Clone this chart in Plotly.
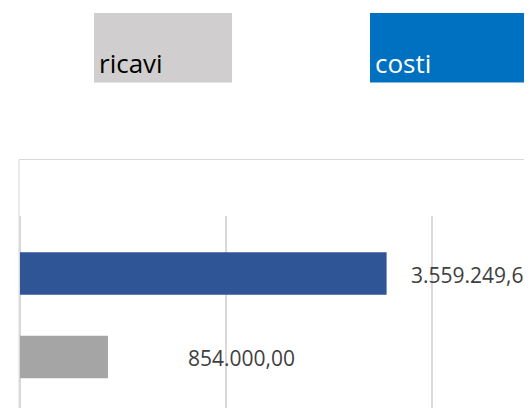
import plotly.graph_objects as go

categories = ["ricavi", "costi"]
values = [854000.00, 3559249.61]
bar_colors = ["#A5A5A5", "#2F5597"]
legend_labels = ["ricavi", "costi"]
legend_colors = ["#D0CECE", "#0070C0"]
legend_text_colors = ["#000000", "#FFFFFF"]

# the page body adds an 8px margin; work in reference pixels and offset
OFF = 8
REF_H = 408
W, H = 532 - OFF, REF_H - OFF
ML, MT = 20 - OFF, 216 - OFF
PW, PH = W - ML, H - MT


def px_x(p):
    return (p - OFF - ML) / PW


def px_y(p):
    return (H - (p - OFF)) / PH


def fmt_it(v):
    s = f"{v:,.2f}"
    return s.replace(",", "X").replace(".", ",").replace("X", ".")


fig = go.Figure()
fig.add_trace(go.Bar(
    y=categories, x=values, orientation="h",
    marker=dict(color=bar_colors, line=dict(width=0)),
    hoverinfo="skip", showlegend=False,
))

# data labels
label_shift = [78, 22]
for c, v, sh in zip(categories, values, label_shift):
    fig.add_annotation(
        x=v, y=c, xref="x", yref="y", text=fmt_it(v), showarrow=False,
        xanchor="left", yanchor="middle", xshift=sh, yshift=-1,
        font=dict(family="Open Sans", size=21, color="#404040"),
    )

# chart border
fig.add_shape(type="rect", xref="paper", yref="paper",
              x0=px_x(19), x1=px_x(560), y0=px_y(440), y1=px_y(159.5),
              line=dict(color="#D9D9D9", width=1), fillcolor="rgba(0,0,0,0)", layer="below")

# legend-like boxes
box_x = [(94, 232), (370, 560)]
for (x0, x1), lab, col, tcol in zip(box_x, legend_labels, legend_colors, legend_text_colors):
    fig.add_shape(type="rect", xref="paper", yref="paper",
                  x0=px_x(x0), x1=px_x(x1), y0=px_y(82.5), y1=px_y(13),
                  line=dict(width=0), fillcolor=col, layer="below")
    fig.add_annotation(
        x=px_x(x0 + 3), y=px_y(83), xref="paper", yref="paper", text=lab, showarrow=False,
        xanchor="left", yanchor="bottom",
        font=dict(family="Open Sans", size=26, color=tcol),
    )

# y range: category pitch 83.5px, costi centre at 273.5px, ricavi at 357px (reference pixels)
pitch = 83.5
y_top = 1 + (273.5 - 216) / pitch
y_bot = 0 - (REF_H - 357) / pitch

fig.update_layout(
    width=W, height=H,
    margin=dict(l=ML, r=0, t=MT, b=0, pad=0),
    paper_bgcolor="white", plot_bgcolor="white",
    bargap=0.49,
    xaxis=dict(range=[0, PW / 206 * 2000000], tick0=0, dtick=2000000,
               showticklabels=False, ticks="", showgrid=True, gridcolor="#D9D9D9", gridwidth=2,
               zeroline=True, zerolinecolor="#D9D9D9", zerolinewidth=2, showline=False,
               fixedrange=True),
    yaxis=dict(range=[y_bot, y_top], showticklabels=False, ticks="", showgrid=False,
               zeroline=False, showline=False, fixedrange=True),
    showlegend=False,
)

fig.write_html("out.html", config={"displayModeBar": False})
